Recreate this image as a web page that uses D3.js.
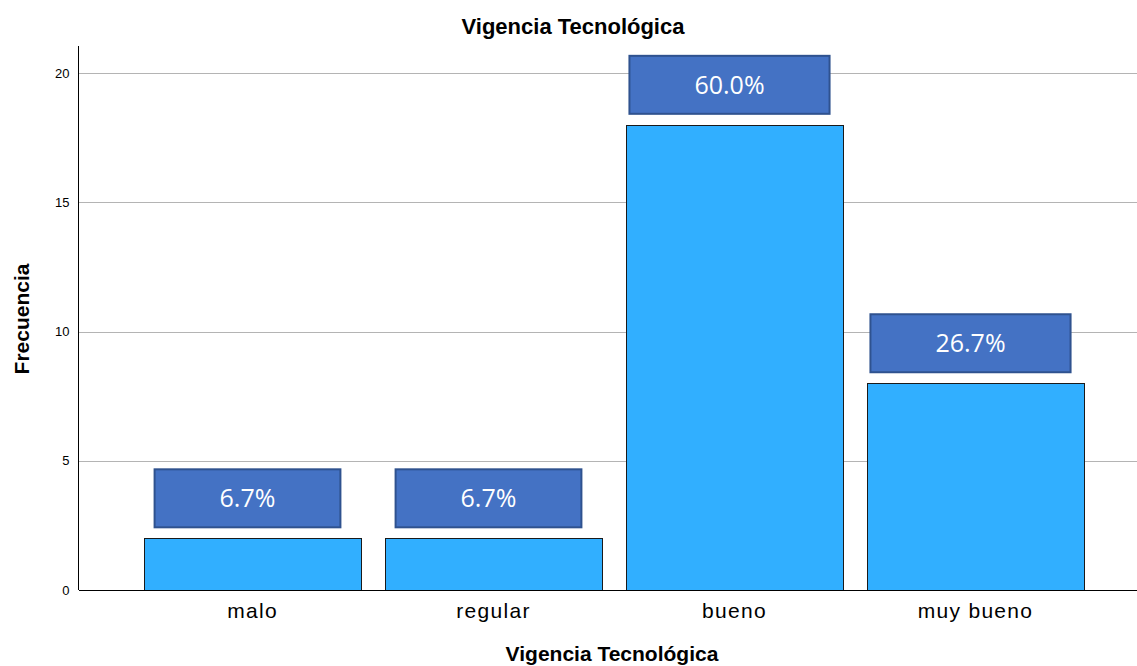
<!DOCTYPE html>
<html>
<head>
<meta charset="utf-8">
<script src="https://cdn.jsdelivr.net/npm/d3@7"></script>
<style>
  body { margin: 0; background: #fff; }
  svg { display: block; }
</style>
</head>
<body>
<svg id="chart" width="1137" height="666"></svg>
<script>
var categories = ["malo", "regular", "bueno", "muy bueno"];
var counts = [2, 2, 18, 8];
var percents = ["6.7%", "6.7%", "60.0%", "26.7%"];
var yTicks = [0, 5, 10, 15, 20];

(function() {
  var svg = d3.select("#chart");
  var x0 = 79, x1 = 1137, plotTop = 46, base = 590;
  var sans = "Liberation Sans, Arial, sans-serif";

  var x = d3.scaleBand().domain(categories).range([132, 1096]).paddingInner(0.1).paddingOuter(0.05);
  var y = d3.scaleLinear().domain([0, 21.05]).range([base, plotTop]);

  // grid
  svg.append("g").selectAll("line").data(yTicks.filter(function(d) { return d > 0; })).enter().append("line")
    .attr("x1", x0).attr("x2", x1)
    .attr("y1", function(d) { return Math.round(y(d)) + 0.5; }).attr("y2", function(d) { return Math.round(y(d)) + 0.5; })
    .attr("stroke", "#b4b4b4").attr("stroke-width", 1);

  // y axis
  var yAxis = svg.append("g").attr("transform", "translate(" + (x0 - 0.5) + ",0)")
    .call(d3.axisLeft(y).tickValues(yTicks).tickSize(0).tickPadding(9));
  yAxis.select(".domain").attr("stroke", "#000").attr("d", "M0," + plotTop + "V" + base);
  yAxis.selectAll("text").attr("font-family", sans).attr("font-size", 13).attr("fill", "#000");

  // bars
  svg.append("g").selectAll("rect").data(counts).enter().append("rect")
    .attr("x", function(d, i) { return Math.round(x(categories[i])) + 0.5; })
    .attr("y", function(d) { return Math.round(y(d)) + 0.5; })
    .attr("width", Math.round(x.bandwidth()))
    .attr("height", function(d) { return base - Math.round(y(d)); })
    .attr("fill", "#31afff").attr("stroke", "#1a1a1a").attr("stroke-width", 1);

  // x axis
  var xAxis = svg.append("g").attr("transform", "translate(0," + base + ")")
    .call(d3.axisBottom(x).tickSize(0).tickPadding(13));
  xAxis.select(".domain").attr("stroke", "#000").attr("d", "M" + x0 + ",0.5H" + x1);
  xAxis.selectAll("text").attr("font-family", sans).attr("font-size", 21)
    .attr("letter-spacing", "1.3px").attr("fill", "#000");

  // percent labels
  var lab = svg.append("g").selectAll("g").data(counts).enter().append("g");
  lab.each(function(d, i) {
    var g = d3.select(this);
    var cx = x(categories[i]) + x.bandwidth() / 2 - 5;
    var bottom = y(d) - 11;
    var h = 58;
    var t = g.append("text").text(percents[i])
      .attr("font-family", "Open Sans, sans-serif").attr("font-size", 25).attr("fill", "#fff")
      .attr("text-anchor", "middle").attr("x", cx).attr("y", bottom - h / 2 + 9);
    var w = t.node().getComputedTextLength() + 130;
    g.insert("rect", "text")
      .attr("x", cx - w / 2).attr("y", bottom - h).attr("width", w).attr("height", h)
      .attr("fill", "#4472c4").attr("stroke", "#2f528f").attr("stroke-width", 2);
  });

  // titles
  svg.append("text").text("Vigencia Tecnológica")
    .attr("x", 573).attr("y", 34).attr("text-anchor", "middle")
    .attr("font-family", sans).attr("font-size", 22).attr("font-weight", "bold");
  svg.append("text").text("Vigencia Tecnológica")
    .attr("x", 612).attr("y", 661).attr("text-anchor", "middle")
    .attr("font-family", sans).attr("font-size", 21).attr("font-weight", "bold");
  svg.append("text").text("Frecuencia")
    .attr("transform", "translate(29,319) rotate(-90)").attr("text-anchor", "middle")
    .attr("font-family", sans).attr("font-size", 21).attr("font-weight", "bold");
})();
</script>
</body>
</html>
